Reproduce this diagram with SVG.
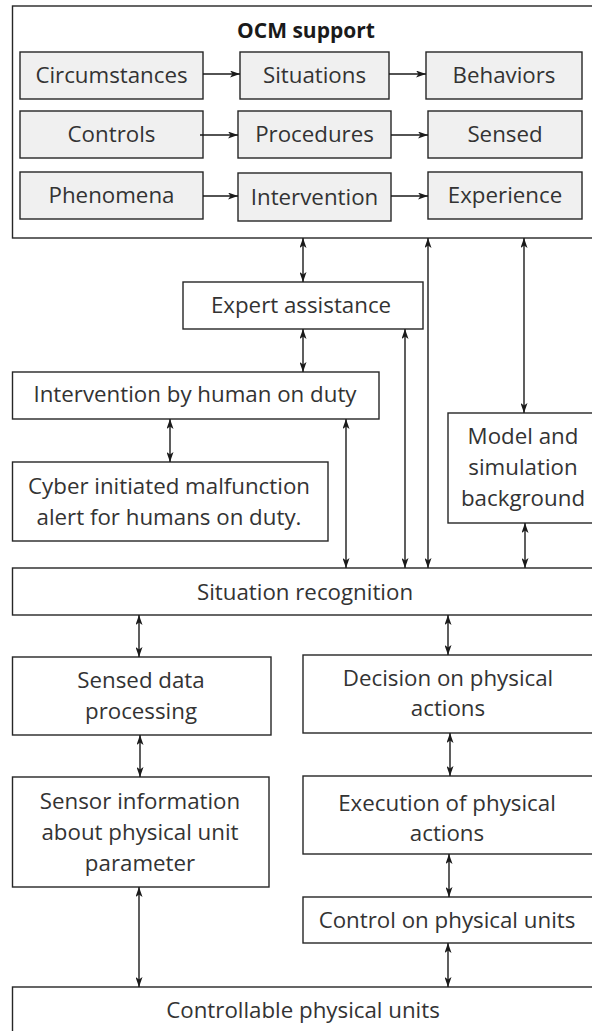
<svg xmlns="http://www.w3.org/2000/svg" width="592" height="1031" viewBox="0 0 592 1031">
<style>
.box{fill:#ffffff;stroke:#262626;stroke-width:1.4}
.gbox{fill:#f0f0f0;stroke:#262626;stroke-width:1.4}
.t{font-family:"Open Sans","Liberation Sans",sans-serif;font-size:22.3px;fill:#333333;text-anchor:middle}
.b{font-family:"Open Sans","Liberation Sans",sans-serif;font-size:21px;font-weight:bold;fill:#1a1a1a;text-anchor:middle}
.c{stroke:#1a1a1a;stroke-width:1.4;fill:none}
.d{marker-start:url(#ah);marker-end:url(#ah)}
.s{marker-end:url(#ah)}
</style>
<defs>
<marker id="ah" viewBox="0 0 10 7" refX="10" refY="3.5" markerWidth="10" markerHeight="7" markerUnits="userSpaceOnUse" orient="auto-start-reverse">
<path d="M0,0 L10,3.5 L0,7 L2.5,3.5 z" fill="#1a1a1a"/>
</marker>
</defs>
<g id="ocm-support">
<rect class="box" x="12.5" y="6" width="586" height="232"/>
<text class="b" x="306" y="38">OCM support</text>
</g>
<g id="circumstances"><rect class="gbox" x="20" y="52" width="183" height="47"/><text class="t" x="111.5" y="83">Circumstances</text></g>
<g id="situations"><rect class="gbox" x="240" y="52" width="149" height="47"/><text class="t" x="314.5" y="83">Situations</text></g>
<g id="behaviors"><rect class="gbox" x="426" y="52" width="156" height="47"/><text class="t" x="504" y="83">Behaviors</text></g>
<g id="controls"><rect class="gbox" x="20" y="111" width="183" height="47"/><text class="t" x="111.5" y="142">Controls</text></g>
<g id="procedures"><rect class="gbox" x="238" y="111" width="153" height="47"/><text class="t" x="314.5" y="142">Procedures</text></g>
<g id="sensed"><rect class="gbox" x="428" y="111" width="154" height="47"/><text class="t" x="505" y="142">Sensed</text></g>
<g id="phenomena"><rect class="gbox" x="20" y="172" width="183" height="47"/><text class="t" x="111.5" y="203">Phenomena</text></g>
<g id="intervention"><rect class="gbox" x="238" y="173" width="153" height="48"/><text class="t" x="314.5" y="205">Intervention</text></g>
<g id="experience"><rect class="gbox" x="428" y="172" width="154" height="47"/><text class="t" x="505" y="203">Experience</text></g>
<g id="expert-assistance"><rect class="box" x="183" y="282" width="240" height="47"/><text class="t" x="301" y="313">Expert assistance</text></g>
<g id="intervention-human"><rect class="box" x="12.5" y="372" width="366.5" height="47"/><text class="t" x="195" y="402">Intervention by human on duty</text></g>
<g id="cyber-alert"><rect class="box" x="12.5" y="462" width="315.5" height="79"/><text class="t" x="169" y="494">Cyber initiated malfunction</text><text class="t" x="169" y="525">alert for humans on duty.</text></g>
<g id="model-simulation"><rect class="box" x="448" y="413" width="150" height="110"/><text class="t" x="523" y="444">Model and</text><text class="t" x="523" y="475">simulation</text><text class="t" x="523" y="506">background</text></g>
<g id="situation-recognition"><rect class="box" x="12.5" y="568" width="585.5" height="47"/><text class="t" x="305" y="600">Situation recognition</text></g>
<g id="sensed-data"><rect class="box" x="12.5" y="657" width="258.5" height="78"/><text class="t" x="141" y="688">Sensed data</text><text class="t" x="141" y="719">processing</text></g>
<g id="decision"><rect class="box" x="303" y="655" width="295" height="78"/><text class="t" x="448" y="686">Decision on physical</text><text class="t" x="448" y="716">actions</text></g>
<g id="sensor-info"><rect class="box" x="12.5" y="777" width="256.5" height="110"/><text class="t" x="140" y="809">Sensor information</text><text class="t" x="140" y="840">about physical unit</text><text class="t" x="140" y="871">parameter</text></g>
<g id="execution"><rect class="box" x="303" y="776" width="295" height="78"/><text class="t" x="447" y="811">Execution of physical</text><text class="t" x="447" y="841">actions</text></g>
<g id="control-units"><rect class="box" x="303" y="897" width="295" height="46"/><text class="t" x="447" y="928">Control on physical units</text></g>
<g id="controllable-units"><rect class="box" x="12.5" y="987" width="585.5" height="60"/><text class="t" x="303" y="1018">Controllable physical units</text></g>
<g id="connectors">
<line class="c s" x1="203" y1="74" x2="240" y2="74"/>
<line class="c s" x1="389" y1="74" x2="426" y2="74"/>
<line class="c s" x1="200" y1="135" x2="238" y2="135"/>
<line class="c s" x1="391" y1="135" x2="428" y2="135"/>
<line class="c s" x1="203" y1="196" x2="238" y2="196"/>
<line class="c s" x1="391" y1="196" x2="428" y2="196"/>
<line class="c d" x1="303" y1="238" x2="303" y2="282"/>
<line class="c d" x1="303" y1="329" x2="303" y2="372"/>
<line class="c d" x1="405" y1="329" x2="405" y2="568"/>
<line class="c d" x1="428" y1="238" x2="428" y2="568"/>
<line class="c d" x1="524" y1="238" x2="524" y2="413"/>
<line class="c d" x1="170" y1="419" x2="170" y2="462"/>
<line class="c d" x1="346" y1="419" x2="346" y2="568"/>
<line class="c d" x1="525" y1="523" x2="525" y2="568"/>
<line class="c d" x1="139" y1="615" x2="139" y2="657"/>
<line class="c d" x1="448" y1="615" x2="448" y2="655"/>
<line class="c d" x1="140" y1="735" x2="140" y2="777"/>
<line class="c d" x1="450" y1="733" x2="450" y2="776"/>
<line class="c d" x1="449" y1="854" x2="449" y2="897"/>
<line class="c d" x1="448" y1="943" x2="448" y2="987"/>
<line class="c d" x1="139" y1="887" x2="139" y2="987"/>
</g>
</svg>
